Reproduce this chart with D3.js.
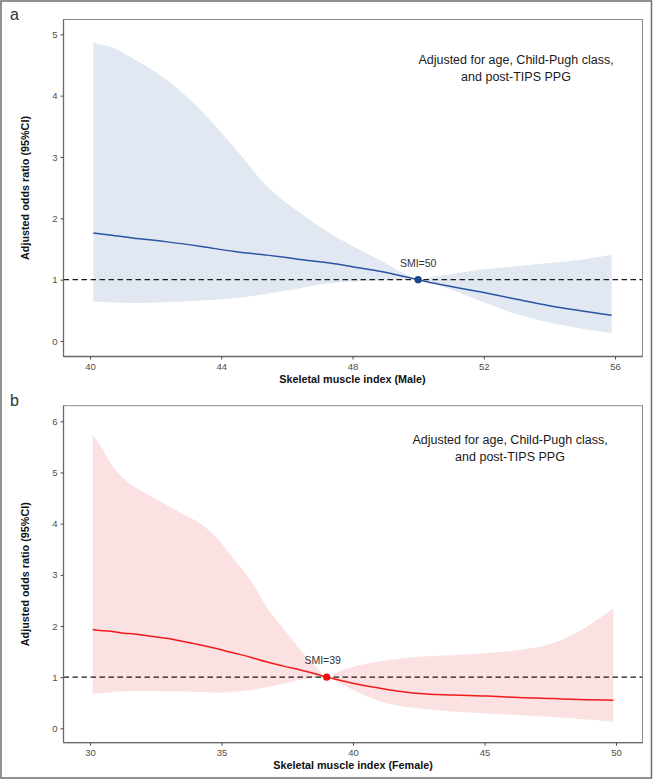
<!DOCTYPE html>
<html>
<head>
<meta charset="utf-8">
<script src="https://cdn.jsdelivr.net/npm/d3@7"></script>
<style>
  html, body { margin: 0; padding: 0; background: #fff; }
  svg { display: block; }
  text { font-family: "Liberation Sans", Arial, sans-serif; }
</style>
</head>
<body>
<svg id="chart" width="653" height="780"></svg>
<script>
// ---------------- DATA ----------------
// Panel a (Male)
const smiMale   = [40.1, 40.6, 41.3, 42.3, 43.4, 44.4, 45.4, 46.4, 47.3, 48.0, 49.0, 49.5, 50.0, 50.5, 51.0, 52.0, 53.0, 54.0, 55.0, 55.9];
const orMale    = [1.76, 1.73, 1.68, 1.62, 1.54, 1.46, 1.40, 1.33, 1.27, 1.21, 1.12, 1.06, 1.00, 0.94, 0.89, 0.79, 0.68, 0.575, 0.49, 0.42];
const upperMale = [4.86, 4.80, 4.61, 4.27, 3.75, 3.15, 2.52, 2.09, 1.76, 1.55, 1.27, 1.12, 1.00, 1.05, 1.09, 1.17, 1.22, 1.27, 1.33, 1.40];
const lowerMale = [0.64, 0.63, 0.62, 0.63, 0.66, 0.70, 0.77, 0.86, 0.94, 0.97, 0.99, 0.995, 1.00, 0.93, 0.84, 0.63, 0.44, 0.30, 0.20, 0.13];
const xTicksMale = [40, 44, 48, 52, 56];
const yTicksMale = [0, 1, 2, 3, 4, 5];
const refMale = 50;

// Panel b (Female)
const smiFemale   = [30.1, 30.4, 30.7, 31.0, 31.3, 31.6, 32.3, 32.9, 33.5, 34.2, 34.8, 35.4, 36.1, 36.7, 37.4, 38.0, 38.6, 39.0, 39.5, 40.0, 41.3, 42.5, 43.8, 45.1, 46.3, 47.6, 48.9, 49.9];
const upperFemale = [5.73, 5.52, 5.25, 5.03, 4.87, 4.75, 4.54, 4.37, 4.20, 4.00, 3.74, 3.35, 2.90, 2.38, 1.92, 1.53, 1.20, 1.00, 1.12, 1.20, 1.33, 1.40, 1.43, 1.47, 1.53, 1.66, 1.99, 2.35];
const lowerFemale = [0.67, 0.69, 0.70, 0.72, 0.72, 0.73, 0.73, 0.72, 0.72, 0.71, 0.70, 0.71, 0.75, 0.80, 0.88, 0.95, 0.99, 1.00, 0.88, 0.75, 0.49, 0.39, 0.33, 0.29, 0.26, 0.22, 0.17, 0.13];
const orFemale    = [1.93, 1.91, 1.90, 1.88, 1.86, 1.85, 1.80, 1.76, 1.70, 1.63, 1.56, 1.48, 1.39, 1.30, 1.21, 1.14, 1.06, 1.00, 0.94, 0.88, 0.76, 0.68, 0.65, 0.63, 0.60, 0.58, 0.56, 0.55];
const xTicksFemale = [30, 35, 40, 45, 50];
const yTicksFemale = [0, 1, 2, 3, 4, 5, 6];
const refFemale = 39;

const annotationLines = ["Adjusted for age, Child-Pugh class,", "and post-TIPS PPG"];
const yTitle = "Adjusted odds ratio (95%CI)";

// ---------------- DRAW ----------------
const svg = d3.select("#chart");

// outer frame
svg.append("rect").attr("x", 1).attr("y", 1).attr("width", 650.5).attr("height", 777)
  .attr("fill", "none").attr("stroke", "#6e6e6e").attr("stroke-width", 1.5);

function panel(cfg) {
  const g = svg.append("g");
  const {left, right, top, bottom} = cfg.box;
  const x = d3.scaleLinear().domain(cfg.xDomain).range(cfg.xRange);
  const y = d3.scaleLinear().domain(cfg.yDomain).range(cfg.yRange);

  const rows = cfg.xs.map((d, i) => ({x: d, or: cfg.or[i], lo: cfg.lo[i], hi: cfg.hi[i]}));

  // ribbon
  g.append("path").datum(rows)
    .attr("d", d3.area().curve(d3.curveMonotoneX)
      .x(d => x(d.x)).y0(d => y(d.lo)).y1(d => y(d.hi)))
    .attr("fill", cfg.fill);

  // reference dashed line at OR = 1
  g.append("line")
    .attr("x1", left).attr("x2", right)
    .attr("y1", y(1)).attr("y2", y(1))
    .attr("stroke", "#1a1a1a").attr("stroke-width", 1.3)
    .attr("stroke-dasharray", "5.5,3.5");

  // OR line
  g.append("path").datum(rows)
    .attr("d", d3.line().curve(d3.curveMonotoneX).x(d => x(d.x)).y(d => y(d.or)))
    .attr("fill", "none").attr("stroke", cfg.stroke).attr("stroke-width", 1.5);

  // reference point
  g.append("circle").attr("cx", x(cfg.ref)).attr("cy", y(1)).attr("r", 3.6)
    .attr("fill", cfg.dot);
  g.append("text").attr("x", x(cfg.ref) - cfg.labelShift).attr("y", y(1) - 13)
    .attr("text-anchor", "middle").attr("font-size", 10.5).attr("fill", "#333")
    .text("SMI=" + cfg.ref);

  // panel border
  g.append("rect").attr("x", left).attr("y", top)
    .attr("width", right - left).attr("height", bottom - top)
    .attr("fill", "none").attr("stroke", "#8a8a8a").attr("stroke-width", 1);
  // axis lines
  g.append("line").attr("x1", left).attr("x2", left).attr("y1", top).attr("y2", bottom)
    .attr("stroke", "#6a6a6a").attr("stroke-width", 1.3);
  g.append("line").attr("x1", left).attr("x2", right).attr("y1", bottom).attr("y2", bottom)
    .attr("stroke", "#6a6a6a").attr("stroke-width", 1.3);

  // y axis
  const ya = g.append("g").attr("transform", `translate(${left},0)`)
    .call(d3.axisLeft(y).tickValues(cfg.yTicks).tickSize(3).tickPadding(3).tickFormat(d3.format("d")));
  ya.select(".domain").remove();
  ya.selectAll("line").attr("stroke", "#4d4d4d");
  ya.selectAll("text").attr("font-size", 9.5).attr("fill", "#4d4d4d")
    .attr("font-family", "'Liberation Sans', Arial, sans-serif");

  // x axis
  const xa = g.append("g").attr("transform", `translate(0,${bottom})`)
    .call(d3.axisBottom(x).tickValues(cfg.xTicks).tickSize(3).tickPadding(4).tickFormat(d3.format("d")));
  xa.select(".domain").remove();
  xa.selectAll("line").attr("stroke", "#4d4d4d");
  xa.selectAll("text").attr("font-size", 9.5).attr("fill", "#4d4d4d")
    .attr("font-family", "'Liberation Sans', Arial, sans-serif");

  // axis titles
  g.append("text").attr("x", (cfg.xRange[0] + cfg.xRange[1]) / 2).attr("y", bottom + 26)
    .attr("text-anchor", "middle").attr("font-size", 10.8).attr("font-weight", "bold")
    .attr("fill", "#111").text(cfg.xTitle);
  g.append("text")
    .attr("transform", `translate(${left - 35},${(top + bottom) / 2}) rotate(-90)`)
    .attr("text-anchor", "middle").attr("font-size", 10.8).attr("font-weight", "bold")
    .attr("fill", "#111").text(yTitle);

  // annotation
  const ann = g.append("text").attr("text-anchor", "middle").attr("font-size", 12.5)
    .attr("fill", "#1a1a1a");
  annotationLines.forEach((t, i) => {
    ann.append("tspan").attr("x", cfg.annX).attr("y", top + cfg.annDy + i * 17.5).text(t);
  });

  // panel letter
  svg.append("text").attr("x", 10).attr("y", top).attr("font-size", 16)
    .attr("font-family", "'DejaVu Sans', sans-serif").attr("font-weight", 300)
    .attr("fill", "#333").text(cfg.letter);
}

panel({
  letter: "a",
  box: {left: 63.5, right: 642.5, top: 19.5, bottom: 356.5},
  xDomain: [40, 56], xRange: [90, 615],
  yDomain: [0, 5], yRange: [341, 34.3],
  xs: smiMale, or: orMale, lo: lowerMale, hi: upperMale,
  xTicks: xTicksMale, yTicks: yTicksMale, ref: refMale, labelShift: 0,
  fill: "#e1e8f2", stroke: "#2b54a3", dot: "#1d4590",
  xTitle: "Skeletal muscle index (Male)",
  annX: 516, annDy: 44
});

panel({
  letter: "b",
  box: {left: 63.5, right: 642.5, top: 405.7, bottom: 742.7},
  xDomain: [30, 50], xRange: [90, 616],
  yDomain: [0, 6], yRange: [728.3, 421.3],
  xs: smiFemale, or: orFemale, lo: lowerFemale, hi: upperFemale,
  xTicks: xTicksFemale, yTicks: yTicksFemale, ref: refFemale, labelShift: 4,
  fill: "#fce1e2", stroke: "#f01a1a", dot: "#f01010",
  xTitle: "Skeletal muscle index (Female)",
  annX: 510, annDy: 38
});
</script>
</body>
</html>
